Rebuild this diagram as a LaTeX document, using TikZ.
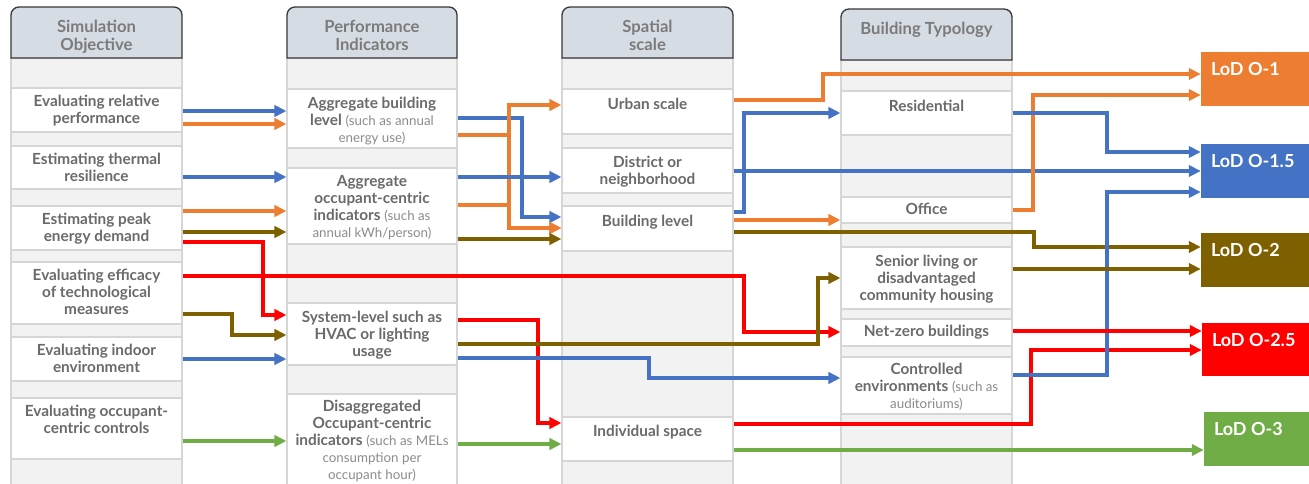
\documentclass[tikz,border=0pt]{standalone}
\usepackage{fontspec}
\setmainfont{Lato}
\usetikzlibrary{arrows.meta,fit,calc}

\definecolor{cBlue}{HTML}{4472C4}
\definecolor{cOrange}{HTML}{ED7D31}
\definecolor{cBrown}{HTML}{7F6000}
\definecolor{cRed}{HTML}{FF0000}
\definecolor{cGreen}{HTML}{70AD47}
\definecolor{hdrFill}{HTML}{D6DCE4}
\definecolor{bodyFill}{HTML}{F2F2F2}
\definecolor{boxLine}{HTML}{D6D6D6}
\definecolor{txtGray}{HTML}{6A6A6A}
\definecolor{hdrGray}{HTML}{7B7B7B}
\definecolor{noteGray}{HTML}{8C8C8C}

\newcommand\smallnote[1]{{\fontsize{10}{12.75}\selectfont\mdseries\color{noteGray}#1}}

\tikzset{
  colbody/.style={fill=bodyFill, draw=boxLine, line width=0.9pt},
  hdrshape/.style={fill=hdrFill, draw=black!78, line width=1pt},
  hdrtxt/.style={font=\fontsize{12.5}{13.5}\selectfont\bfseries, text=hdrGray,
    align=center, anchor=north, inner sep=0pt, execute at begin node=\strut},
  wbox/.style={fill=white, draw=boxLine, line width=0.9pt, inner sep=0pt},
  itemtxt/.style={font=\fontsize{11.5}{12.75}\selectfont\bfseries, text=txtGray,
    align=center, anchor=north, inner sep=0pt, execute at begin node=\strut},
  lodbox/.style={inner sep=0pt, draw=none},
  lodtxt/.style={font=\fontsize{13.5}{15}\selectfont\bfseries, text=white,
    anchor=north west, inner sep=0pt},
  link/.style={line width=2.4pt, -{Triangle[length=9pt,width=8.5pt]}},
}

\begin{document}
\begin{tikzpicture}[x=0.75pt,y=-0.75pt]
\useasboundingbox (0,0) rectangle (1309,484);
\clip (0,0) rectangle (1309,484);

% ---------- column bodies ----------
\path[colbody] (11,58) rectangle (182,492);
\path[colbody] (287,58) rectangle (457,492);
\path[colbody] (562,58) rectangle (733,492);
\path[colbody] (841,60) rectangle (1012,492);

% ---------- column headers ----------
\path[hdrshape] (11,58) [rounded corners=6pt] -- (11,7) -- (182,7) [sharp corners] -- (182,58) -- cycle;
\path[hdrshape] (287,58) [rounded corners=6pt] -- (287,7) -- (457,7) [sharp corners] -- (457,58) -- cycle;
\path[hdrshape] (562,58) [rounded corners=6pt] -- (562,7) -- (733,7) [sharp corners] -- (733,58) -- cycle;
\path[hdrshape] (841,60) [rounded corners=6pt] -- (841,9) -- (1012,9) [sharp corners] -- (1012,60) -- cycle;

\node[hdrtxt] (h1) at (96.5,20) {Simulation\\Objective};
\node[hdrtxt] (h2) at (372,20) {Performance\\Indicators};
\node[hdrtxt] (h3) at (647.5,20) {Spatial\\scale};
\node[hdrtxt] (h4) at (926.5,22) {Building Typology};

% ---------- simulation objectives ----------
\node[wbox, fit={(11,88) (182,132)}] (o1) {};
\node[wbox, fit={(11,146) (182,189)}] (o2) {};
\node[wbox, fit={(11,206) (182,250)}] (o3) {};
\node[wbox, fit={(11,262) (182,324)}] (o4) {};
\node[wbox, fit={(11,337) (182,381)}] (o5) {};
\node[wbox, fit={(11,398) (182,459)}] (o6) {};
\node[itemtxt] (o1t) at ($(o1.north)+(0,7.5)$) {Evaluating relative\\performance};
\node[itemtxt] (o2t) at ($(o2.north)+(0,7.5)$) {Estimating thermal\\resilience};
\node[itemtxt] (o3t) at ($(o3.north)+(0,7.5)$) {Estimating peak\\energy demand};
\node[itemtxt] (o4t) at ($(o4.north)+(0,7.5)$) {Evaluating efficacy\\of technological\\measures};
\node[itemtxt] (o5t) at ($(o5.north)+(0,7.5)$) {Evaluating indoor\\environment};
\node[itemtxt] (o6t) at ($(o6.north)+(0,7.5)$) {Evaluating occupant-\\centric controls};

% ---------- performance indicators ----------
\node[wbox, fit={(287,89) (457,148)}] (p1) {};
\node[wbox, fit={(287,168) (457,244)}] (p2) {};
\node[wbox, fit={(287,303) (457,365)}] (p3) {};
\node[wbox, fit={(287,394) (457,492)}] (p4) {};
\node[itemtxt] (p1t) at ($(p1.north)+(0,8.5)$) {Aggregate building\\level \smallnote{(such as annual}\\\smallnote{energy use)}};
\node[itemtxt] (p2t) at ($(p2.north)+(0,7.5)$) {Aggregate\\occupant-centric\\indicators \smallnote{(such as}\\\smallnote{annual kWh/person)}};
\node[itemtxt] (p3t) at ($(p3.north)+(0,8.5)$) {System-level such as\\HVAC or lighting\\usage};
\node[itemtxt] (p4t) at ($(p4.north)+(0,6.5)$) {Disaggregated\\Occupant-centric\\indicators \smallnote{(such as MELs}\\\smallnote{consumption per}\\\smallnote{occupant hour)}};

% ---------- spatial scale ----------
\node[wbox, fit={(562,89) (733,134)}] (s1) {};
\node[wbox, fit={(562,148) (733,193)}] (s2) {};
\node[wbox, fit={(562,206) (733,251)}] (s3) {};
\node[wbox, fit={(562,417) (733,461)}] (s4) {};
\node[itemtxt] (s1t) at ($(s1.north)+(0,8.5)$) {Urban scale};
\node[itemtxt] (s2t) at ($(s2.north)+(0,8.5)$) {District or\\neighborhood};
\node[itemtxt] (s3t) at ($(s3.north)+(0,8.5)$) {Building level};
\node[itemtxt] (s4t) at ($(s4.north)+(0,7.5)$) {Individual space};

% ---------- building typology ----------
\node[wbox, fit={(841,91) (1012,135)}] (t1) {};
\node[wbox, fit={(841,197) (1012,223)}] (t2) {};
\node[wbox, fit={(841,247) (1012,309)}] (t3) {};
\node[wbox, fit={(841,319) (1012,346)}] (t4) {};
\node[wbox, fit={(841,357) (1012,414)}] (t5) {};
\node[itemtxt] (t1t) at ($(t1.north)+(0,8.5)$) {Residential};
\node[itemtxt] (t2t) at ($(t2.north)+(0,6)$) {Office};
\node[itemtxt] (t3t) at ($(t3.north)+(0,8.5)$) {Senior living or\\disadvantaged\\community housing};
\node[itemtxt] (t4t) at ($(t4.north)+(0,6)$) {Net-zero buildings};
\node[itemtxt] (t5t) at ($(t5.north)+(0,6.5)$) {Controlled\\environments \smallnote{(such as}\\\smallnote{auditoriums)}};

% ---------- levels of detail ----------
\node[lodbox, fill=cOrange, fit={(1201,52) (1309,106)}] (L1) {};
\node[lodbox, fill=cBlue, fit={(1201,144) (1309,198)}] (L15) {};
\node[lodbox, fill=cBrown, fit={(1201,233) (1309,287)}] (L2) {};
\node[lodbox, fill=cRed, fit={(1202,323) (1309,376)}] (L25) {};
\node[lodbox, fill=cGreen, fit={(1204,412) (1309,466)}] (L3) {};
\node[lodtxt] (L1t) at ($(L1.north west)+(10,10.5)$) {LoD O-1};
\node[lodtxt] (L15t) at ($(L15.north west)+(10,10.5)$) {LoD O-1.5};
\node[lodtxt] (L2t) at ($(L2.north west)+(10,10.5)$) {LoD O-2};
\node[lodtxt] (L25t) at ($(L25.north west)+(10,10.5)$) {LoD O-2.5};
\node[lodtxt] (L3t) at ($(L3.north west)+(10,10.5)$) {LoD O-3};

% ---------- objectives -> indicators ----------
\draw[link,cBlue]   (o1.east |- 0,111) -- (p1.west |- 0,111);
\draw[link,cOrange] (o1.east |- 0,124) -- (p1.west |- 0,124);
\draw[link,cBlue]   (o2.east |- 0,177) -- (p2.west |- 0,177);
\draw[link,cOrange] (o3.east |- 0,211) -- (p2.west |- 0,211);
\draw[link,cBrown]  (o3.east |- 0,232) -- (p2.west |- 0,232);
\draw[link,cRed]    (o3.east |- 0,242) -| (263,315) -- (p3.west |- 0,315);
\draw[link,cBrown]  (o4.east |- 0,314) -| (232,335) -- (p3.west |- 0,335);
\draw[link,cBlue]   (o5.east |- 0,359) -- (p3.west |- 0,359);
\draw[link,cGreen]  (o6.east |- 0,441) -- (p4.west |- 0,441);
\draw[link,cRed]    (o4.east |- 0,276) -| (744,332) -- (t4.west |- 0,332);

% ---------- indicators -> spatial scale ----------
\draw[link,cBlue]   (p1.east |- 0,118) -| (522,217) -- (s3.west |- 0,217);
\draw[link,cOrange] (p1.east |- 0,135) -| (509,105) -- (s1.west |- 0,105);
\draw[link,cOrange] (p1.east |- 0,135) -| (509,228) -- (s3.west |- 0,228);
\draw[link,cOrange] (p2.east |- 0,205) -| (509,228) -- (s3.west |- 0,228);
\draw[link,cBlue]   (p2.east |- 0,177) -- (s2.west |- 0,177);
\draw[link,cBrown]  (p2.east |- 0,239) -- (s3.west |- 0,239);
\draw[link,cRed]    (p3.east |- 0,320) -| (538,423) -- (s4.west |- 0,423);
\draw[link,cBrown]  (p3.east |- 0,344) -| (818,278) -- (t3.west |- 0,278);
\draw[link,cBlue]   (p3.east |- 0,358) -| (649,378) -- (t5.west |- 0,378);
\draw[link,cGreen]  (p4.east |- 0,444) -- (s4.west |- 0,444);

% ---------- spatial scale -> typology / LoD ----------
\draw[link,cOrange] (s1.east |- 0,100) -| (823,74) -- (L1.west |- 0,74);
\draw[link,cBlue]   (s3.east |- 0,212) -| (744,113) -- (t1.west |- 0,113);
\draw[link,cBlue]   (s2.east |- 0,171) -- (L15.west |- 0,171);
\draw[link,cOrange] (s3.east |- 0,220) -- (t2.west |- 0,220);
\draw[link,cBrown]  (s3.east |- 0,232) -| (1034,247) -- (L2.west |- 0,247);
\draw[link,cRed]    (s4.east |- 0,424) -| (1031,350) -- (L25.west |- 0,350);
\draw[link,cGreen]  (s4.east |- 0,450) -- (L3.west |- 0,450);

% ---------- typology -> LoD ----------
\draw[link,cOrange] (t2.east |- 0,210) -| (1033,95) -- (L1.west |- 0,95);
\draw[link,cBlue]   (t1.east |- 0,113) -| (1107,152) -- (L15.west |- 0,152);
\draw[link,cBlue]   (t5.east |- 0,375) -| (1107,192) -- (L15.west |- 0,192);
\draw[link,cBrown]  (t3.east |- 0,269) -- (L2.west |- 0,269);
\draw[link,cRed]    (t4.east |- 0,331) -- (L25.west |- 0,331);
\end{tikzpicture}
\end{document}
